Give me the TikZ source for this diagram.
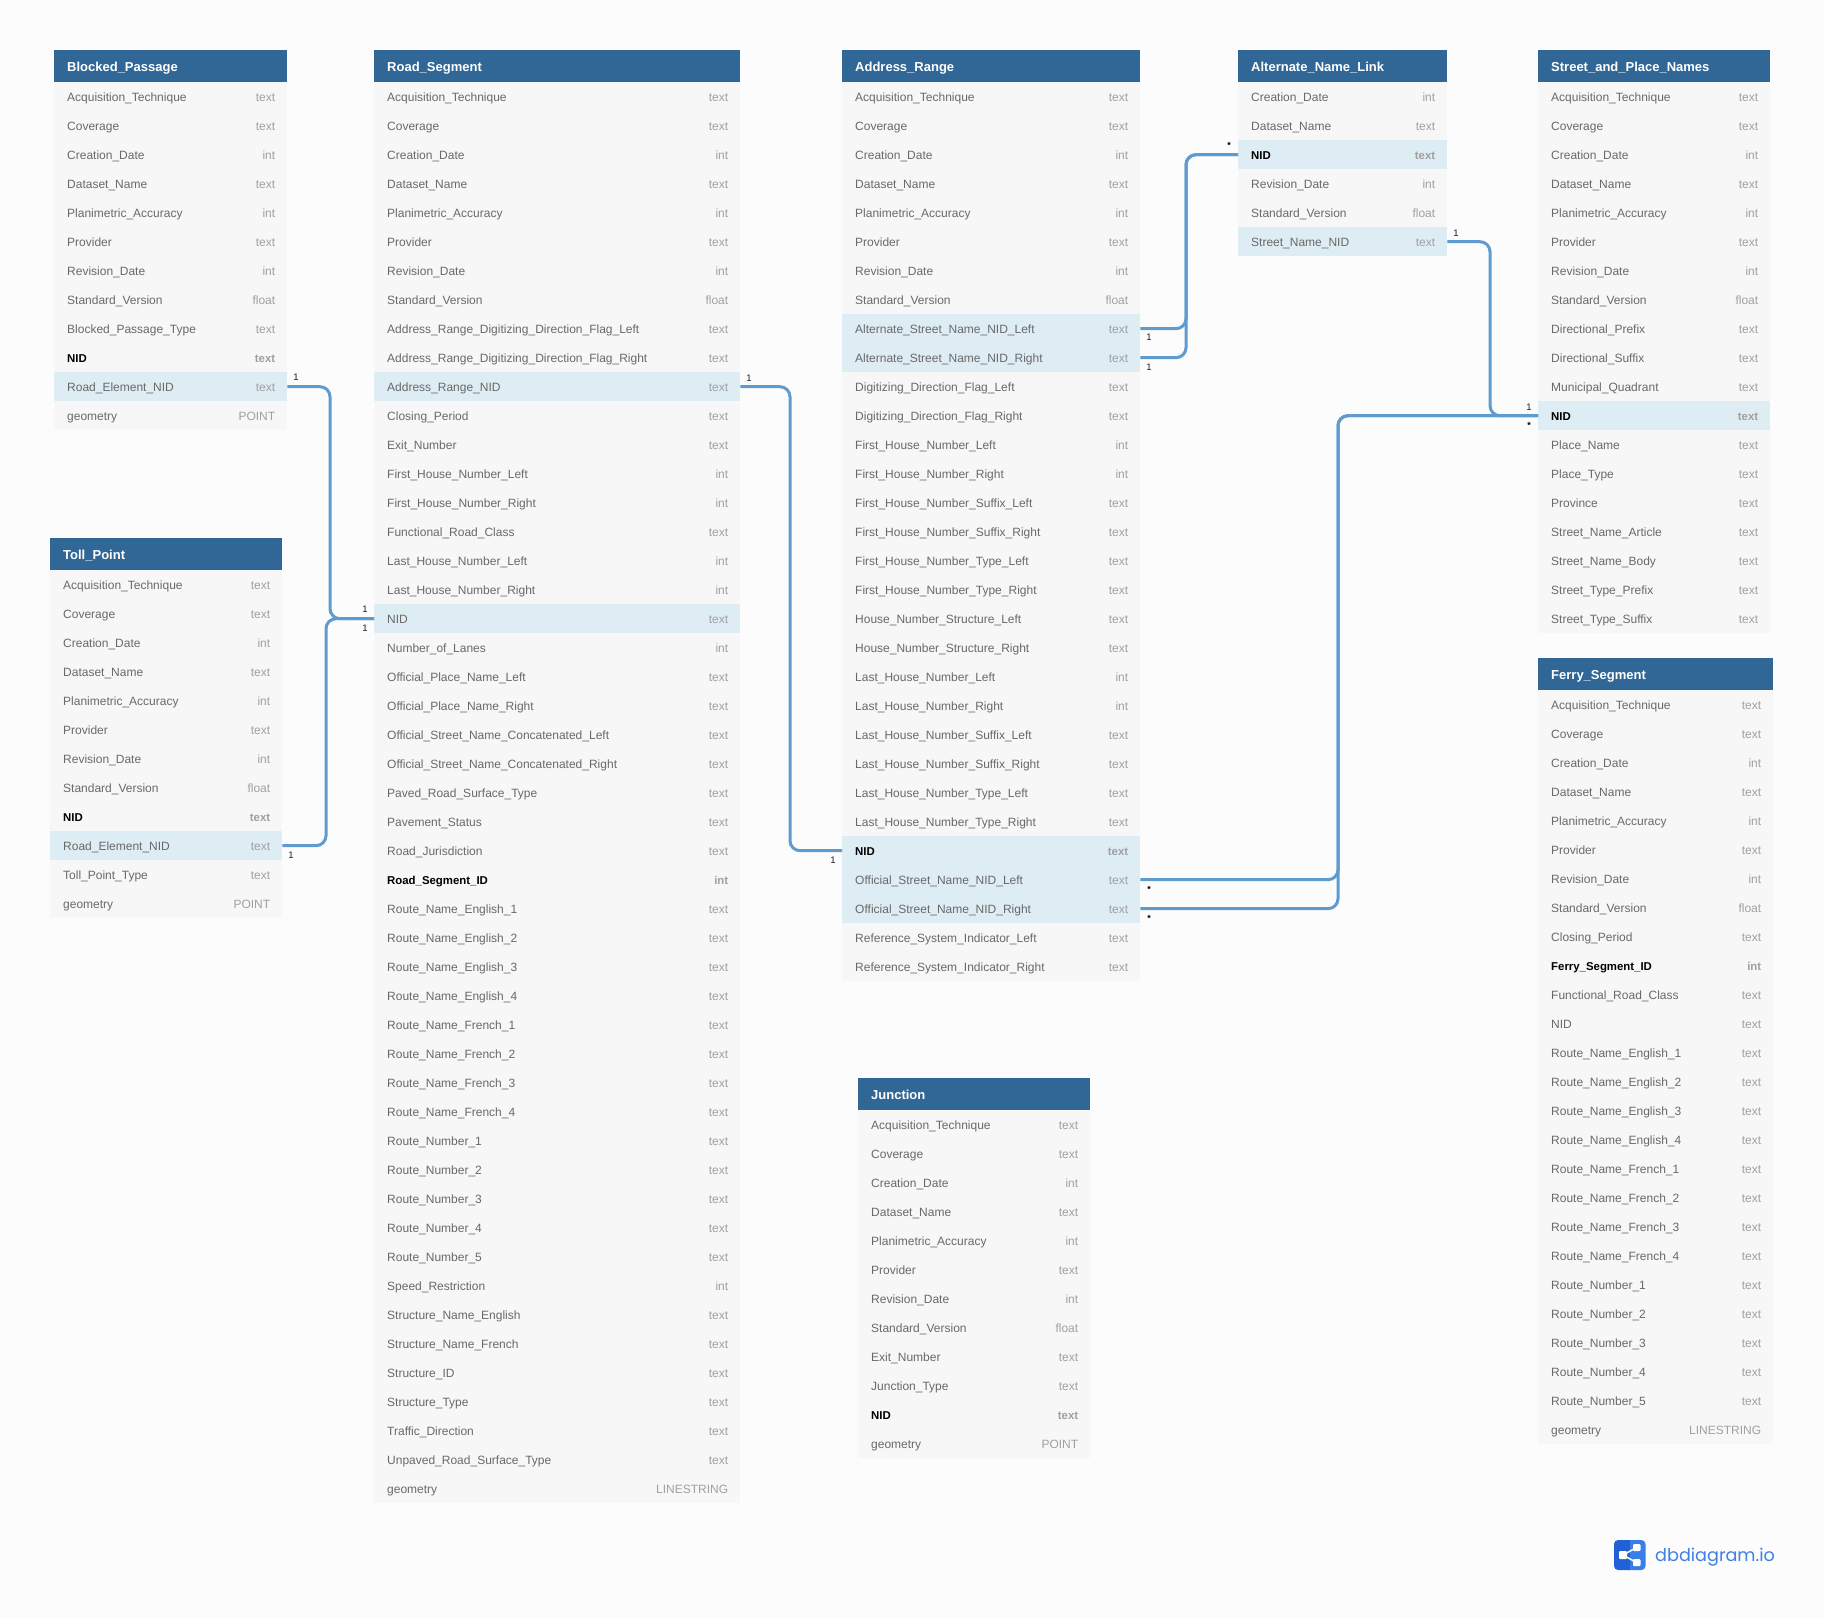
\documentclass[tikz,border=0pt]{standalone}
\usepackage{fontspec}
\setmainfont{Liberation Sans}
\newfontfamily\logofont{Poppins}
\usepackage{xcolor}
\usepackage{tikz}
\usetikzlibrary{calc}
\definecolor{pagecolor}{RGB}{252,252,253}
\definecolor{headcolor}{RGB}{49,103,150}
\definecolor{rowcolor}{RGB}{247,247,247}
\definecolor{linkcolor}{RGB}{222,236,244}
\definecolor{fieldcolor}{RGB}{105,105,105}
\definecolor{typecolor}{RGB}{160,160,160}
\definecolor{relcolor}{RGB}{95,155,207}
\definecolor{cardcolor}{RGB}{30,30,30}
\definecolor{logodark}{RGB}{34,96,214}
\definecolor{logolight}{RGB}{58,126,232}
\definecolor{logotext}{RGB}{64,128,228}
\catcode`\_=12
% the eight fields most tables start with
\newcommand{\commonrows}{Acquisition_Technique/text/n,Coverage/text/n,Creation_Date/int/n,Dataset_Name/text/n,Planimetric_Accuracy/int/n,Provider/text/n,Revision_Date/int/n,Standard_Version/float/n}
% id, x, y, width, title, rows as field/type/kind
\newcommand{\erdtable}[6]{%
  \pgfmathsetlengthmacro\rowtw{#4pt-26pt}%
  \node[headbox,text width=\rowtw] (#1-head) at (#2,#3) {#5};
  \edef\rowlist{#6}%
  \foreach \fname/\ftype/\fkind [count=\i from 0] in \rowlist {
    \node[rowbox,row\fkind,text width=\rowtw] (#1-\i) at (#2,{#3+32+29*\i}) {\fname\hfill\textcolor{typecolor}{\ftype}\kern-1pt};
  }
}

\begin{document}
\begin{tikzpicture}[x=1pt,y=-1pt]
\tikzset{
  headbox/.style={anchor=north west,fill=headcolor,text=white,minimum height=32pt,inner xsep=13pt,inner ysep=0pt,
    text height=10pt,text depth=0pt,align=left,font=\fontsize{13}{15}\selectfont\bfseries},
  rowbox/.style={anchor=north west,minimum height=29pt,inner xsep=13pt,inner ysep=0pt,
    text height=9pt,text depth=0pt,align=left},
  rown/.style={fill=rowcolor,text=fieldcolor,font=\fontsize{12}{14}\selectfont},
  rowk/.style={fill=rowcolor,text=black,font=\fontsize{11.4}{14}\selectfont\bfseries},
  rowl/.style={fill=linkcolor,text=fieldcolor,font=\fontsize{12}{14}\selectfont},
  rowb/.style={fill=linkcolor,text=black,font=\fontsize{11.4}{14}\selectfont\bfseries},
  relline/.style={draw=relcolor,line width=3pt,rounded corners=10pt},
  cardmark/.style={inner sep=0pt,text=cardcolor,font=\fontsize{9.5}{10}\selectfont},
  cardstar/.style={inner sep=0pt,text=black,font=\fontsize{9}{10}\selectfont\bfseries}
}
\fill[pagecolor] (0,0) rectangle (1824,1618);
\useasboundingbox (0,0) rectangle (1824,1618);

\erdtable{blocked}{54}{50}{233}{Blocked_Passage}{\commonrows,Blocked_Passage_Type/text/n,NID/text/k,Road_Element_NID/text/l,geometry/POINT/n}
\erdtable{toll}{50}{538}{232}{Toll_Point}{\commonrows,NID/text/k,Road_Element_NID/text/l,Toll_Point_Type/text/n,geometry/POINT/n}
\erdtable{road}{374}{50}{366}{Road_Segment}{\commonrows,
  Address_Range_Digitizing_Direction_Flag_Left/text/n,Address_Range_Digitizing_Direction_Flag_Right/text/n,
  Address_Range_NID/text/l,Closing_Period/text/n,Exit_Number/text/n,First_House_Number_Left/int/n,
  First_House_Number_Right/int/n,Functional_Road_Class/text/n,Last_House_Number_Left/int/n,
  Last_House_Number_Right/int/n,NID/text/l,Number_of_Lanes/int/n,Official_Place_Name_Left/text/n,
  Official_Place_Name_Right/text/n,Official_Street_Name_Concatenated_Left/text/n,
  Official_Street_Name_Concatenated_Right/text/n,Paved_Road_Surface_Type/text/n,Pavement_Status/text/n,
  Road_Jurisdiction/text/n,Road_Segment_ID/int/k,Route_Name_English_1/text/n,Route_Name_English_2/text/n,
  Route_Name_English_3/text/n,Route_Name_English_4/text/n,Route_Name_French_1/text/n,Route_Name_French_2/text/n,
  Route_Name_French_3/text/n,Route_Name_French_4/text/n,Route_Number_1/text/n,Route_Number_2/text/n,
  Route_Number_3/text/n,Route_Number_4/text/n,Route_Number_5/text/n,Speed_Restriction/int/n,
  Structure_Name_English/text/n,Structure_Name_French/text/n,Structure_ID/text/n,Structure_Type/text/n,
  Traffic_Direction/text/n,Unpaved_Road_Surface_Type/text/n,geometry/LINESTRING/n}
\erdtable{address}{842}{50}{298}{Address_Range}{\commonrows,
  Alternate_Street_Name_NID_Left/text/l,Alternate_Street_Name_NID_Right/text/l,Digitizing_Direction_Flag_Left/text/n,
  Digitizing_Direction_Flag_Right/text/n,First_House_Number_Left/int/n,First_House_Number_Right/int/n,
  First_House_Number_Suffix_Left/text/n,First_House_Number_Suffix_Right/text/n,First_House_Number_Type_Left/text/n,
  First_House_Number_Type_Right/text/n,House_Number_Structure_Left/text/n,House_Number_Structure_Right/text/n,
  Last_House_Number_Left/int/n,Last_House_Number_Right/int/n,Last_House_Number_Suffix_Left/text/n,
  Last_House_Number_Suffix_Right/text/n,Last_House_Number_Type_Left/text/n,Last_House_Number_Type_Right/text/n,
  NID/text/b,Official_Street_Name_NID_Left/text/l,Official_Street_Name_NID_Right/text/l,
  Reference_System_Indicator_Left/text/n,Reference_System_Indicator_Right/text/n}
\erdtable{altname}{1238}{50}{209}{Alternate_Name_Link}{Creation_Date/int/n,Dataset_Name/text/n,NID/text/b,
  Revision_Date/int/n,Standard_Version/float/n,Street_Name_NID/text/l}
\erdtable{street}{1538}{50}{232}{Street_and_Place_Names}{\commonrows,
  Directional_Prefix/text/n,Directional_Suffix/text/n,Municipal_Quadrant/text/n,NID/text/b,Place_Name/text/n,
  Place_Type/text/n,Province/text/n,Street_Name_Article/text/n,Street_Name_Body/text/n,Street_Type_Prefix/text/n,
  Street_Type_Suffix/text/n}
\erdtable{ferry}{1538}{658}{235}{Ferry_Segment}{\commonrows,
  Closing_Period/text/n,Ferry_Segment_ID/int/k,Functional_Road_Class/text/n,NID/text/n,Route_Name_English_1/text/n,
  Route_Name_English_2/text/n,Route_Name_English_3/text/n,Route_Name_English_4/text/n,Route_Name_French_1/text/n,
  Route_Name_French_2/text/n,Route_Name_French_3/text/n,Route_Name_French_4/text/n,Route_Number_1/text/n,
  Route_Number_2/text/n,Route_Number_3/text/n,Route_Number_4/text/n,Route_Number_5/text/n,geometry/LINESTRING/n}
\erdtable{junction}{858}{1078}{232}{Junction}{\commonrows,
  Exit_Number/text/n,Junction_Type/text/n,NID/text/k,geometry/POINT/n}

% vertical runs of the relations
\coordinate (busblocked) at (330,0);
\coordinate (bustoll) at (326,0);
\coordinate (busroad) at (790,0);
\coordinate (busalt) at (1186,0);
\coordinate (busstreet) at (1490,0);
\coordinate (busofficial) at (1338,0);

\draw[relline] (blocked-10.east)--(blocked-10.east -| busblocked)--(road-18.west -| busblocked)--(road-18.west);
\draw[relline] (toll-9.east)--(toll-9.east -| bustoll)--(road-18.west -| bustoll)--(road-18.west);
\draw[relline] (road-10.east)--(road-10.east -| busroad)--(address-26.west -| busroad)--(address-26.west);
\draw[relline] (address-8.east)--(address-8.east -| busalt)--(altname-2.west -| busalt)--(altname-2.west);
\draw[relline] (address-9.east)--(address-9.east -| busalt)--(altname-2.west -| busalt)--(altname-2.west);
\draw[relline] (altname-5.east)--(altname-5.east -| busstreet)--(street-11.west -| busstreet)--(street-11.west);
\draw[relline] (address-27.east)--(address-27.east -| busofficial)--(street-11.west -| busofficial)--(street-11.west);
\draw[relline] (address-28.east)--(address-28.east -| busofficial)--(street-11.west -| busofficial)--(street-11.west);

\node[cardmark] (cardblocked) at (296,377) {1};
\node[cardmark] (cardroada) at (365,609) {1};
\node[cardmark] (cardroadb) at (365,628) {1};
\node[cardmark] (cardtoll) at (291,855) {1};
\node[cardmark] (cardrange) at (749,378) {1};
\node[cardmark] (cardaddress) at (833,860) {1};
\node[cardmark] (cardaltl) at (1149,337) {1};
\node[cardmark] (cardaltr) at (1149,367) {1};
\node[cardmark] (cardstreetlink) at (1456,233) {1};
\node[cardmark] (cardstreet) at (1529,407) {1};
\node[cardstar] (staralt) at (1229,145.5) {*};
\node[cardstar] (starstreet) at (1529,425.5) {*};
\node[cardstar] (starofl) at (1149,889.5) {*};
\node[cardstar] (starofr) at (1149,918.5) {*};

% logo
\begin{scope}
\clip (1614,1540) rectangle (1630,1570);
\fill[logodark,rounded corners=4pt] (1614,1540) rectangle (1645.5,1570);
\end{scope}
\begin{scope}
\clip (1630,1540) rectangle (1645.5,1570);
\fill[logolight,rounded corners=4pt] (1614,1540) rectangle (1645.5,1570);
\end{scope}
\draw[white,line width=1.5pt] (1636.5,1547.5)--(1623,1555)--(1636.5,1562.5);
\fill[white,rounded corners=1pt] (1619,1551) rectangle (1627,1559);
\fill[white,rounded corners=1pt] (1633,1544) rectangle (1640.5,1551);
\fill[white,rounded corners=1pt] (1633,1559) rectangle (1640.5,1566);
\node[anchor=west,inner sep=0pt,text=logotext,font=\logofont\fontsize{17.6}{20}\selectfont] (logoname) at (1655,1557) {dbdiagram.io};
\end{tikzpicture}
\end{document}
